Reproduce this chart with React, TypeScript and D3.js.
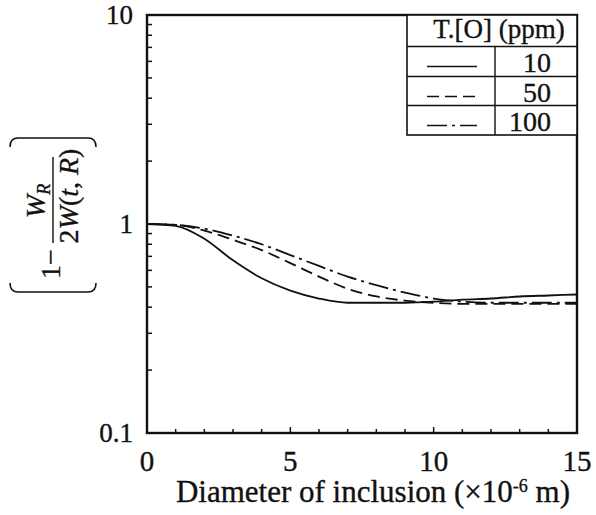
import React from 'react'
import * as d3 from 'd3'

// diameter of inclusion (x10^-6 m)
const diameters = [0, 1, 2, 3, 4, 5, 6, 7, 8, 9, 10, 11, 12, 13, 14, 15]

// 1 - W_R / 2W(t,R) for each total oxygen level
const ppm10 = [1.0, 0.98, 0.85, 0.67, 0.55, 0.48, 0.44, 0.42, 0.42, 0.42, 0.425, 0.435, 0.44, 0.45, 0.455, 0.46]
const ppm50 = [1.0, 0.99, 0.93, 0.84, 0.75, 0.65, 0.56, 0.49, 0.45, 0.43, 0.42, 0.415, 0.415, 0.415, 0.415, 0.415]
const ppm100 = [1.0, 0.99, 0.95, 0.88, 0.8, 0.71, 0.63, 0.56, 0.51, 0.47, 0.44, 0.425, 0.42, 0.42, 0.42, 0.42]

const seriesNames = ['10', '50', '100']
const xTickLabels = [0, 5, 10, 15]
const yTickLabels = [0.1, 1, 10]

const W = 596
const H = 515
const left = 147
const right = 577
const top = 15
const bottom = 433
const serif = { fontFamily: "'Liberation Serif', 'Times New Roman', 'DejaVu Serif', serif" }
// scanned original has heavy glyphs, thicken a bit
const ink = { fill: '#111', stroke: '#111', strokeWidth: 0.35 }

const dashes = ['none', '12,6', '20,5,3,5']

export default function App() {
  const x = d3.scaleLinear().domain([0, 15]).range([left, right])
  const y = d3.scaleLog().domain([0.1, 10]).range([bottom, top])

  const line = d3.line<number>()
    .x((_, i) => x(diameters[i]))
    .y(d => y(d))
    .curve(d3.curveMonotoneX)

  const series = [ppm10, ppm50, ppm100]

  // minor log ticks on the left axis
  const yMinor: number[] = []
  for (const base of [0.1, 1]) {
    for (let k = 2; k <= 9; k++) yMinor.push(base * k)
  }
  const xMinor = d3.range(1, 15)

  // legend table
  const lgLeft = 407
  const lgRight = right
  const lgMid = 495
  const rows = [top, 46.5, 76.5, 105.5, 135]

  // y label rotated frame
  const cx = 50
  const cy = 215

  return (
    <svg width={W} height={H} style={{ position: 'absolute', left: 0, top: 0, background: '#fff', ...serif }}>
      <rect width={W} height={H} fill="#fff" />

      {/* data lines */}
      {series.map((s, i) => (
        <path key={i} d={line(s) || ''} fill="none" stroke="#111" strokeWidth={1.8}
          strokeDasharray={dashes[i]} />
      ))}

      {/* ticks */}
      {yMinor.map(v => (
        <line key={'ym' + v} x1={left} x2={left + 5} y1={y(v)} y2={y(v)} stroke="#111" strokeWidth={1.5} />
      ))}
      <line x1={left} x2={left + 7} y1={y(1)} y2={y(1)} stroke="#111" strokeWidth={1.5} />
      {xMinor.map(v => (
        <line key={'xm' + v} x1={x(v)} x2={x(v)} y1={bottom} y2={bottom - (v % 5 === 0 ? 6 : 4)}
          stroke="#111" strokeWidth={1.5} />
      ))}

      {/* frame */}
      <rect x={left} y={top} width={right - left} height={bottom - top} fill="none" stroke="#111" strokeWidth={2.4} />

      {/* tick labels */}
      {yTickLabels.map(v => (
        <text key={'yl' + v} x={133} y={y(v) + 9} textAnchor="end" fontSize={27} style={{ ...serif, ...ink }}>{v}</text>
      ))}
      {xTickLabels.map(v => (
        <text key={'xl' + v} x={x(v)} y={471} textAnchor="middle" fontSize={29} style={{ ...serif, ...ink }}>{v}</text>
      ))}

      {/* x title */}
      <text x={373} y={502} textAnchor="middle" fontSize={31} style={{ ...serif, ...ink }}>
        Diameter of inclusion (<tspan>×</tspan>10<tspan dy={-10} fontSize={18}>-6</tspan><tspan dy={10}> m)</tspan>
      </text>

      {/* y title */}
      <g transform={`translate(${cx},${cy}) rotate(-90)`} style={{ ...serif, ...ink }}>
        <path d="M -68,-40 Q -77,-40 -77,-32 L -77,38 Q -77,46 -68,46" fill="none" stroke="#111" strokeWidth={1.6} />
        <path d="M 68,-40 Q 77,-40 77,-32 L 77,38 Q 77,46 68,46" fill="none" stroke="#111" strokeWidth={1.6} />
        <text x={-64} y={10} fontSize={28}>1−</text>
        <line x1={-28} x2={58} y1={3} y2={3} stroke="#111" strokeWidth={1.4} />
        <text x={14} y={-5} textAnchor="middle" fontSize={28} fontStyle="italic">W<tspan dy={5} fontSize={18}>R</tspan></text>
        <text x={19} y={28} textAnchor="middle" fontSize={28}>2<tspan fontStyle="italic">W</tspan>(<tspan fontStyle="italic">t</tspan>, <tspan fontStyle="italic">R</tspan>)</text>
      </g>

      {/* legend */}
      <g style={serif}>
        <rect x={lgLeft} y={top} width={lgRight - lgLeft} height={rows[4] - top} fill="#fff" stroke="#111" strokeWidth={1.6} />
        {rows.slice(1, 4).map((r, i) => (
          <line key={'r' + i} x1={lgLeft} x2={lgRight} y1={r} y2={r} stroke="#111" strokeWidth={1.4} />
        ))}
        <line x1={lgMid} x2={lgMid} y1={rows[1]} y2={rows[4]} stroke="#111" strokeWidth={1.4} />
        <text x={499} y={38} textAnchor="middle" fontSize={27} style={ink}>T.[O] (ppm)</text>
        {seriesNames.map((n, i) => (
          <g key={n}>
            <line x1={427} x2={477} y1={rows[i + 1] + 20} y2={rows[i + 1] + 20} stroke="#111" strokeWidth={1.6}
              strokeDasharray={dashes[i]} />
            <text x={551} y={rows[i + 1] + 25} textAnchor="end" fontSize={28} style={ink}>{n}</text>
          </g>
        ))}
      </g>
    </svg>
  )
}
